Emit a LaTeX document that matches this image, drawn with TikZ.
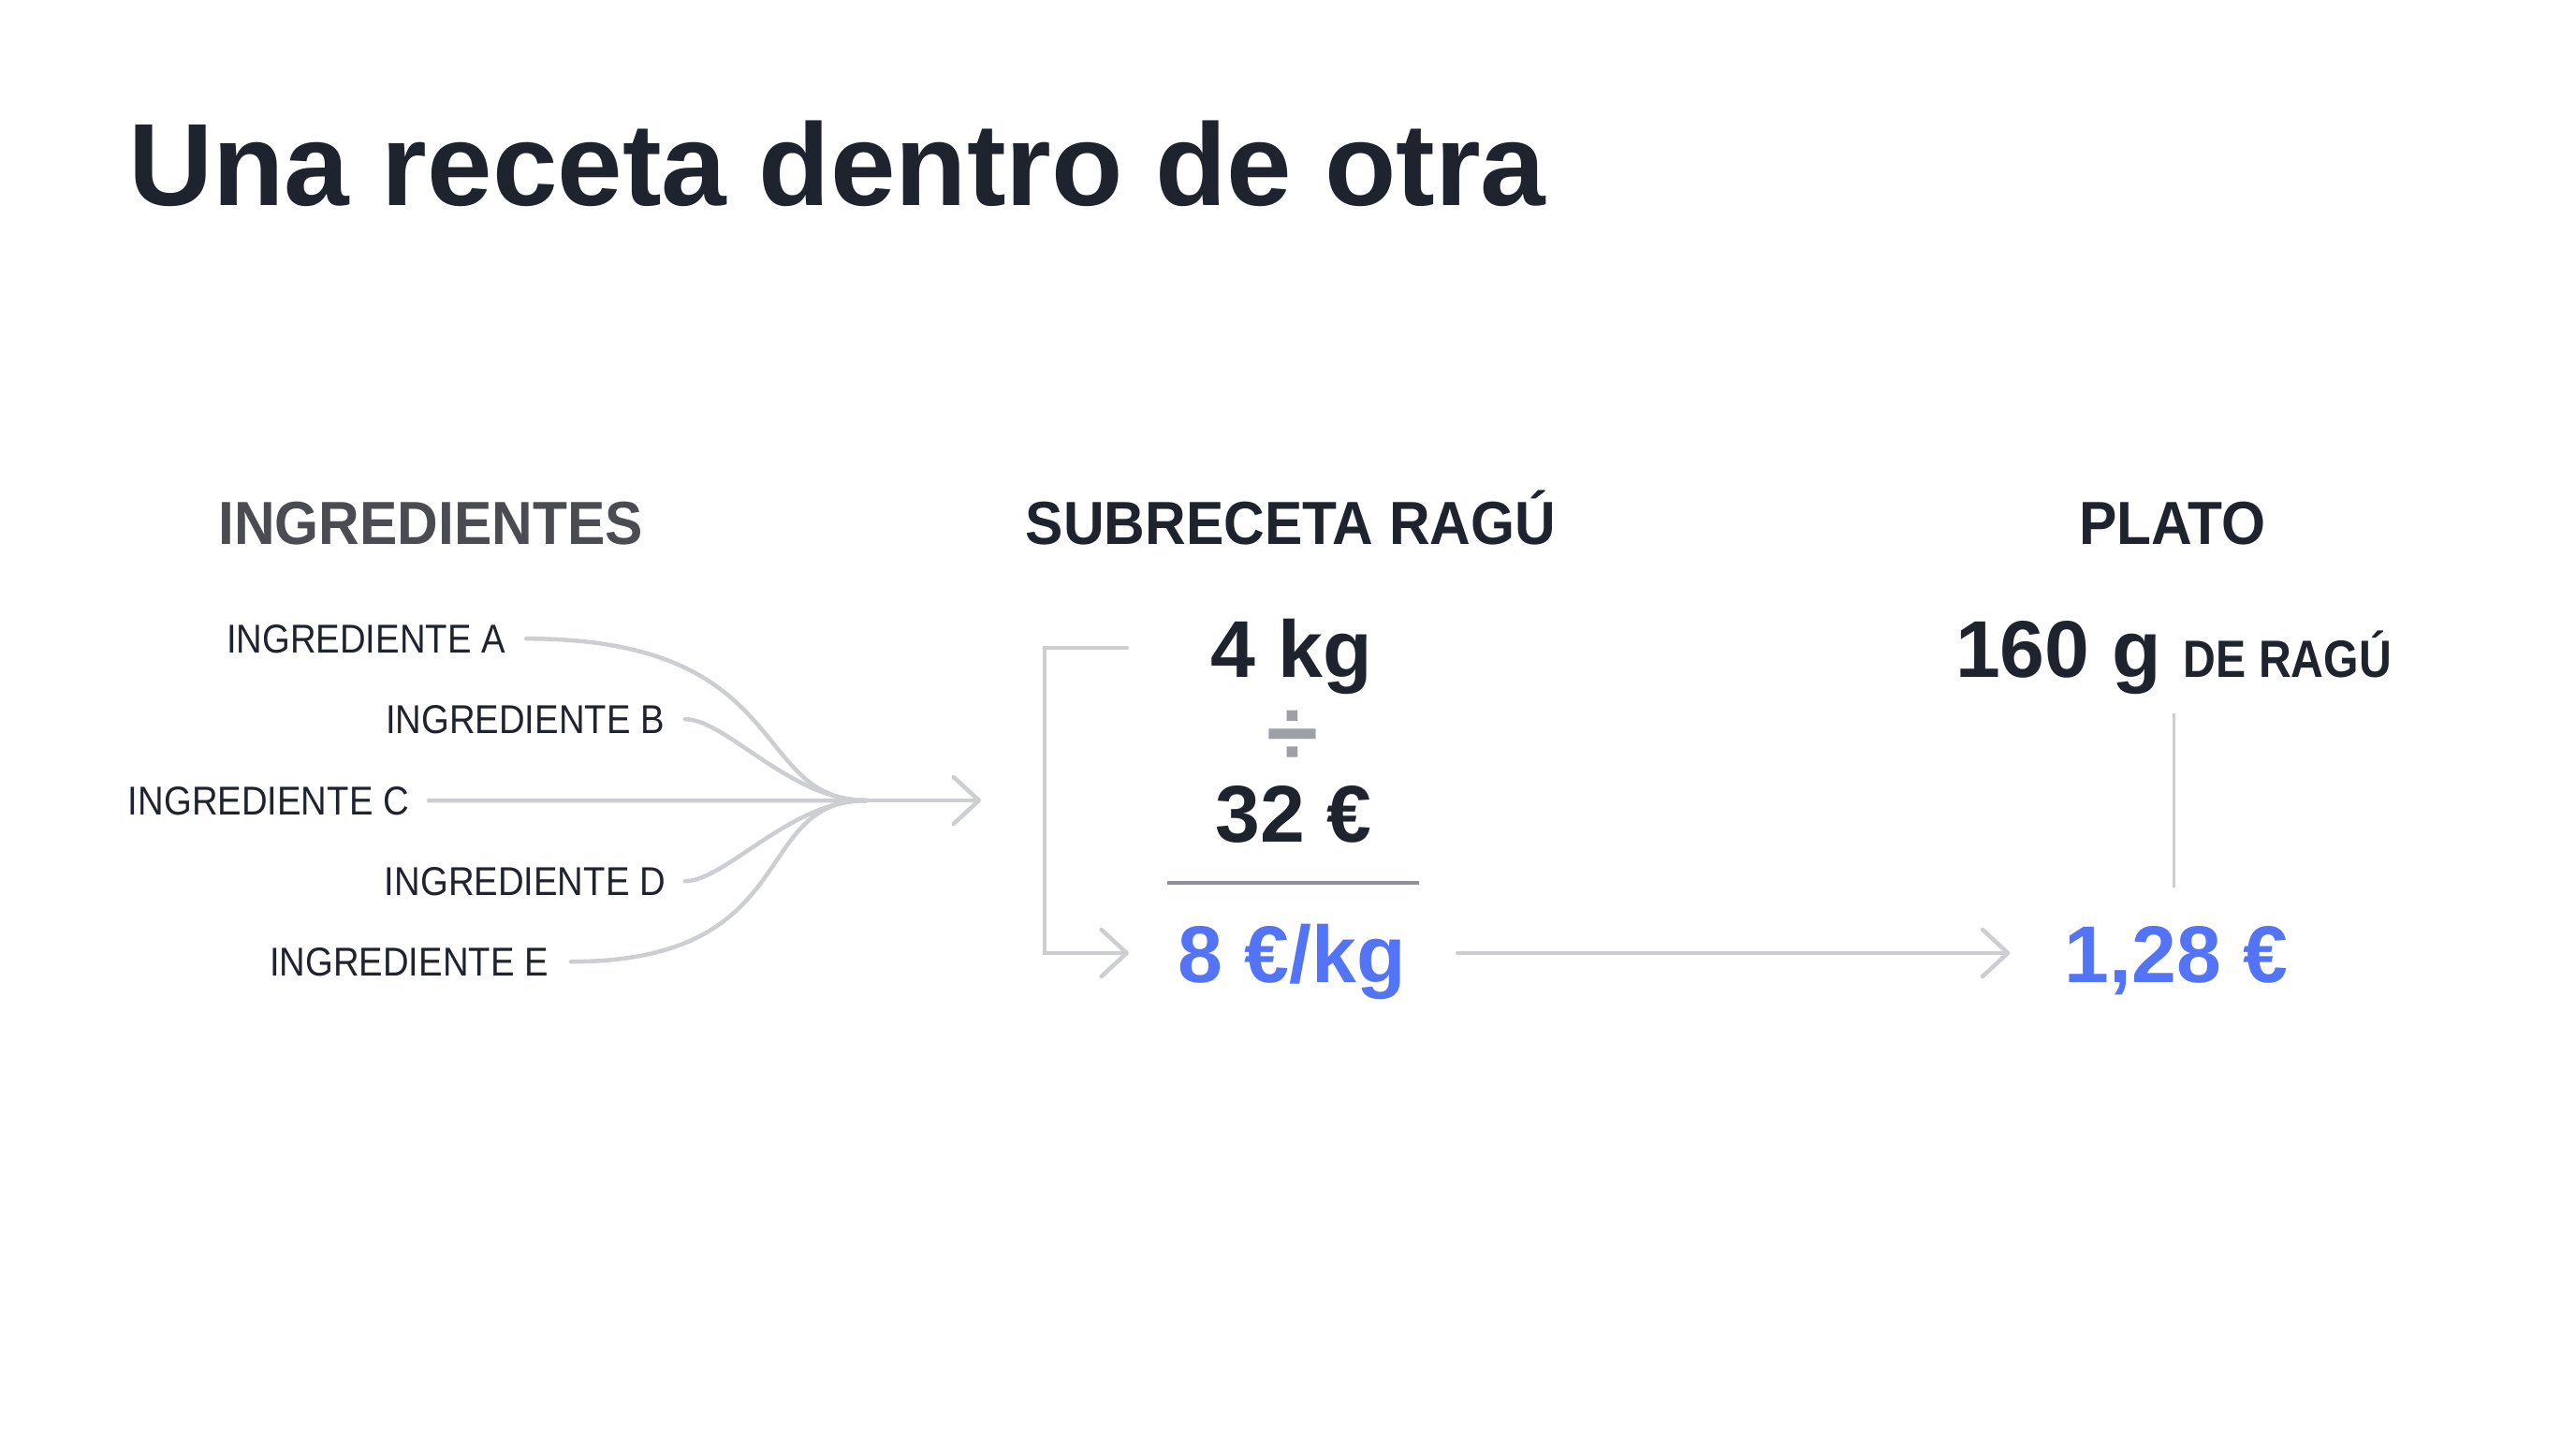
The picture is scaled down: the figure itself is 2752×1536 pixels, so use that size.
\documentclass[tikz,border=0pt]{standalone}
\usepackage{fontspec}
\setmainfont{Liberation Sans}
\newfontfamily\capsfont[FakeStretch=0.93]{Liberation Sans}
\newfontfamily\labelfont[FakeStretch=0.89]{Liberation Sans}
\newfontfamily\ragufont[FakeStretch=0.86]{Liberation Sans}
\usetikzlibrary{arrows.meta,calc}
\definecolor{ink}{RGB}{31,35,45}
\definecolor{headgray}{RGB}{75,76,82}
\definecolor{wire}{RGB}{205,206,210}
\definecolor{rulegray}{RGB}{142,144,151}
\definecolor{divgray}{RGB}{158,160,166}
\definecolor{costblue}{RGB}{83,116,246}
\tikzset{>={Straight Barb[length=27pt,width=50pt,round]}}
\tikzset{
  heading/.style={anchor=base,inner sep=0pt,font=\capsfont\bfseries\fontsize{65}{78}\selectfont},
  ingr/.style={anchor=base east,inner sep=0pt,text=ink,font=\labelfont\fontsize{43}{52}\selectfont},
  qty/.style={anchor=base,inner sep=0pt,text height=62pt,text depth=0pt,
    text=ink,font=\bfseries\fontsize{86}{103}\selectfont},
  wireline/.style={draw=wire,line width=4.5pt,line cap=round},
  stem/.style={draw=wire,line width=3pt},
  fracrule/.style={draw=rulegray,line width=4pt}
}

\begin{document}
\begin{tikzpicture}[x=1pt,y=-1pt]
\fill[white] (0,0) rectangle (2752,1536);
\useasboundingbox (0,0) rectangle (2752,1536);

\node[anchor=base west,inner sep=0pt,text=ink,
  font=\bfseries\fontsize{125}{150}\selectfont] (title) at (137,219)
  {Una receta dentro de otra};

% column headings
\node[heading,text=headgray] (ingHead) at (460,581) {INGREDIENTES};
\node[heading,text=ink] (subHead) at (1379,581) {SUBRECETA RAGÚ};
\node[heading,text=ink] (plateHead) at (2321,581) {PLATO};

% ingredients
\node[ingr] (ingA) at (540,697) {INGREDIENTE A};
\node[ingr] (ingB) at (710,783) {INGREDIENTE B};
\node[ingr] (ingC) at (437,870) {INGREDIENTE C};
\node[ingr] (ingD) at (711,956) {INGREDIENTE D};
\node[ingr] (ingE) at (586,1042) {INGREDIENTE E};

\coordinate (merge) at (925,855);
\coordinate (mixtip) at (1048,855);
\draw[wireline] ([xshift=22pt]ingA.east) .. controls (850,682) and (800,855) .. (merge);
\draw[wireline] ([xshift=22pt]ingB.east) .. controls (775,768) and (845,855) .. (merge);
\draw[wireline] ([xshift=21pt]ingC.east) -- (merge);
\draw[wireline] ([xshift=21pt]ingD.east) .. controls (775,941) and (845,855) .. (merge);
\draw[wireline] ([xshift=24pt]ingE.east) .. controls (860,1027) and (800,855) .. (merge);
\draw[wireline,->] (merge) -- (mixtip);

% sub-recipe
\node[qty] (kg) at (1380,723) {4 kg};
\node[text=divgray,inner sep=0pt,font=\bfseries\fontsize{100}{120}\selectfont]
  (divsign) at (1381,788) {÷};
\node[qty] (price) at (1382,899) {32 €};
\coordinate (ruleL) at (1247,943);
\coordinate (ruleR) at (1516,943);
\draw[fracrule] (ruleL) -- (ruleR);
\node[qty,text=costblue] (rate) at (1380,1049) {8 €/kg};
\draw[wireline,->] ([xshift=-90pt]kg.west) -| ([xshift=-142pt]rate.west)
  -- ([xshift=-52pt]rate.west);

% plate
\node[qty] (plate) at (2322,723)
  {160 g {\ragufont\fontsize{56}{67}\selectfont DE RAGÚ}};
\node[qty,text=costblue] (cost) at (2325,1049) {1,28 €};
\draw[stem] ([yshift=-39pt]plate.south) -- ([yshift=39pt]plate.south |- cost.north);
\draw[wireline,->,shorten <=55pt,shorten >=58pt] (rate.east) -- (cost.west);
\end{tikzpicture}
\end{document}
